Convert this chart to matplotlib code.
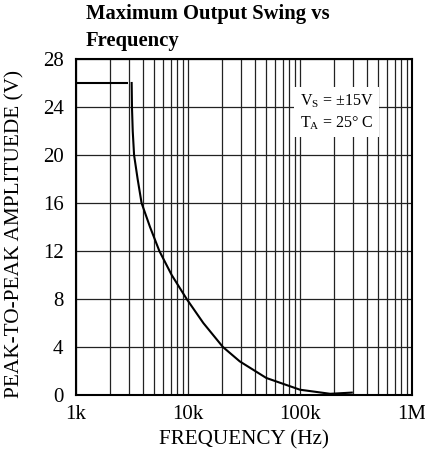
import matplotlib
matplotlib.use('Agg')
import matplotlib.pyplot as plt
import numpy as np

# data
flat_freq = [1000, 2900]
flat_vpp = [26, 26]
curve_freq = [3140, 3160, 3210, 3300, 3550, 3850, 4580, 5550, 7150, 9730, 13700,
              20500, 29000, 50000, 100000, 186000, 290000]
curve_vpp = [26, 24, 22, 20, 18, 16, 14, 12, 10, 8, 6,
             4, 2.8, 1.42, 0.44, 0.1, 0.2]
y_ticks = [0, 4, 8, 12, 16, 20, 24, 28]
x_ticks = [1e3, 1e4, 1e5, 1e6]
x_labels = ['1k', '10k', '100k', '1M']

plt.rcParams['font.family'] = ['Liberation Serif', 'DejaVu Serif']
plt.rcParams['mathtext.fontset'] = 'custom'
plt.rcParams['mathtext.rm'] = 'Liberation Serif'

fig = plt.figure(figsize=(4.25, 4.53), dpi=100)
ax = fig.add_axes([76 / 425, 58 / 453, 336 / 425, 336 / 453])

ax.plot(flat_freq, flat_vpp, color='black', lw=1.5, solid_capstyle='butt')
ax.plot(curve_freq, curve_vpp, color='black', lw=1.5)

ax.set_xscale('log')
ax.set_xlim(1e3, 1e6)
ax.set_ylim(0, 28)
ax.set_yticks(y_ticks)
ax.set_xticks(x_ticks)
ax.set_xticklabels(x_labels)
ax.xaxis.set_minor_locator(matplotlib.ticker.LogLocator(base=10, subs=np.arange(2, 10)))
ax.xaxis.set_minor_formatter(matplotlib.ticker.NullFormatter())
ax.tick_params(which='both', length=0, labelsize=15)
ax.tick_params(axis='x', pad=7)
ax.tick_params(axis='y', pad=9)

ax.grid(True, which='both', axis='x', color='#222222', lw=0.9)
ax.grid(True, which='major', axis='y', color='#222222', lw=0.9)
ax.set_axisbelow(True)
for s in ax.spines.values():
    s.set_linewidth(1.5)

ax.set_xlabel('FREQUENCY (Hz)', fontsize=15.2, labelpad=5)
ax.set_ylabel('PEAK-TO-PEAK AMPLITUEDE (V)', fontsize=15.3)
ax.yaxis.set_label_coords(-0.152, 0.48)

# conditions box, covers the grid behind it
ax.text(0.776, 0.842, '$\\mathregular{V_S}$ = \u00b115V\n$\\mathregular{T_A}$ = 25\u00b0 C',
        transform=ax.transAxes, ha='center', va='center', fontsize=11.5,
        linespacing=1.35,
        bbox=dict(facecolor='white', edgecolor='none', pad=4), zorder=5)

fig.text(86 / 425, 1 - 19 / 453, 'Maximum Output Swing vs', fontsize=14.9,
         fontweight='bold', ha='left', va='baseline')
fig.text(86 / 425, 1 - 46 / 453, 'Frequency', fontsize=14.9,
         fontweight='bold', ha='left', va='baseline')

fig.savefig('out.png', dpi=100)
